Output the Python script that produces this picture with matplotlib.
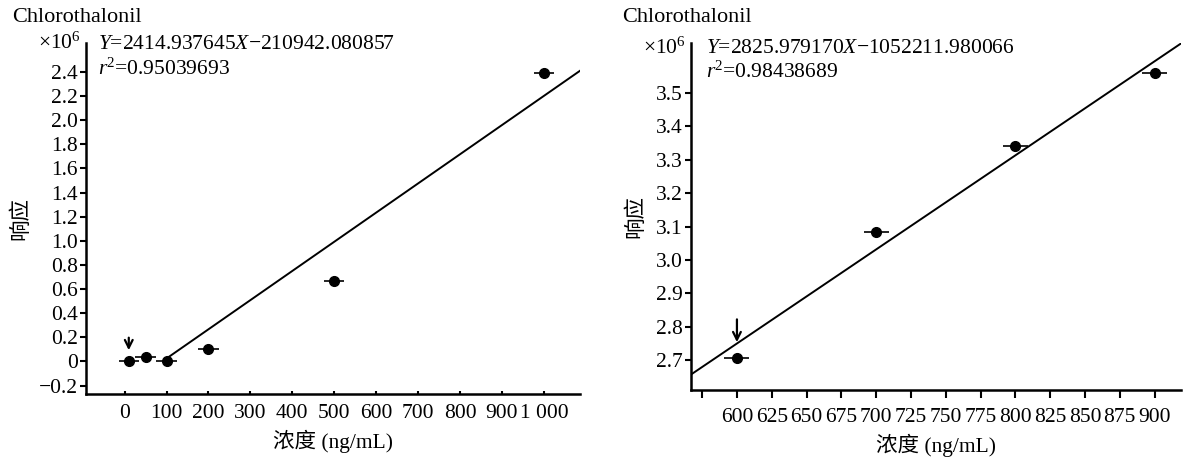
import numpy as np
import matplotlib
matplotlib.use('Agg')
import matplotlib.pyplot as plt

plt.rcParams['font.family'] = ['Liberation Serif', 'Noto Sans CJK SC']
plt.rcParams['mathtext.fontset'] = 'custom'
plt.rcParams['mathtext.rm'] = 'Liberation Serif'
plt.rcParams['mathtext.it'] = 'Liberation Serif:italic'

# data (response in units of 1e6)
conc_left = [10, 50, 100, 200, 500, 1000]
resp_left = [0.0, 0.035, 0.0, 0.10, 0.67, 2.39]
conc_right = [600, 700, 800, 900]
resp_right = [2.706, 3.083, 3.34, 3.56]

title = 'Chlorothalonil'
eq_left = '$Y$=2414.937645$X$\u2212210942.080857'
r2_left = '$r$$^2$=0.95039693'
eq_right = '$Y$=2825.979170$X$\u22121052211.980066'
r2_right = '$r$$^2$=0.98438689'

xticks_left = list(range(0, 1001, 100))
xlabels_left = [str(v) for v in xticks_left[:-1]] + ['1 000']
yticks_left = np.round(np.arange(-0.2, 2.41, 0.2), 1)
xticks_right = list(range(575, 901, 25))
xlabels_right = [''] + [str(v) for v in xticks_right[1:]]
yticks_right = np.round(np.arange(2.7, 3.51, 0.1), 1)

fs = 15.5

fig = plt.figure(figsize=(11.84, 4.63), dpi=100)
ax1 = fig.add_axes([86 / 1184, 69 / 463, 494 / 1184, 351 / 463])
ax2 = fig.add_axes([691 / 1184, 73 / 463, 490 / 1184, 347 / 463])


def style(ax):
    for s in ['top', 'right']:
        ax.spines[s].set_visible(False)
    for s in ['left', 'bottom']:
        ax.spines[s].set_linewidth(1.8)
    ax.tick_params(labelsize=fs, width=1.5, length=4, pad=2)


def points(ax, x, y, xerr):
    ax.errorbar(x, y, xerr=xerr, fmt='o', color='black', ms=7,
                elinewidth=1.2, capsize=0, zorder=3)


# left panel
style(ax1)
points(ax1, conc_left, resp_left, 24)
k, b = np.polyfit(conc_left, resp_left, 1)
xl = np.array([100, 1086])
ax1.plot(xl, k * xl + b, color='black', lw=1.4)
ax1.annotate('', xy=(10, 0.07), xytext=(10, 0.22),
             arrowprops=dict(arrowstyle='->', color='black', lw=1.6,
                             mutation_scale=14))
ax1.set_xlim(-92, 1086)
ax1.set_ylim(-0.27, 2.64)
ax1.set_xticks(xticks_left)
ax1.set_xticklabels(xlabels_left)
ax1.tick_params(axis='x', direction='in', length=2, pad=7)
ax1.set_yticks(yticks_left)
ax1.set_yticklabels(['\u22120.2', '0'] + ['%.1f' % v for v in yticks_left[2:]])
ax1.set_xlabel('浓度 (ng/mL)', fontsize=fs, labelpad=5)
ax1.set_ylabel('响应', fontsize=fs, labelpad=5)
ax1.text(-0.01, 1.0, '\u00d710$^6$', transform=ax1.transAxes,
         ha='right', va='center', fontsize=fs)
ax1.text(0.025, 0.995, eq_left, transform=ax1.transAxes, ha='left',
         va='center', fontsize=fs)
ax1.text(0.025, 0.925, r2_left, transform=ax1.transAxes, ha='left',
         va='center', fontsize=fs)
fig.text(12 / 1184, 1 - 18 / 463, title, ha='left', va='center', fontsize=16)

# right panel
style(ax2)
points(ax2, conc_right, resp_right, 9)
k2, b2 = np.polyfit(conc_right, resp_right, 1)
xr = np.array([567, 930])
ax2.plot(xr, k2 * xr + b2, color='black', lw=1.4)
ax2.annotate('', xy=(600, 2.745), xytext=(600, 2.83),
             arrowprops=dict(arrowstyle='->', color='black', lw=1.6,
                             mutation_scale=14))
ax2.set_xlim(567, 919)
ax2.set_ylim(2.61, 3.65)
ax2.set_xticks(xticks_right)
ax2.set_xticklabels(xlabels_right)
ax2.tick_params(axis='x', length=6, pad=7)
ax2.set_yticks(yticks_right)
ax2.set_yticklabels(['%.1f' % v for v in yticks_right])
ax2.set_xlabel('浓度 (ng/mL)', fontsize=fs, labelpad=5)
ax2.set_ylabel('响应', fontsize=fs, labelpad=7)
ax2.text(-0.01, 0.985, '\u00d710$^6$', transform=ax2.transAxes,
         ha='right', va='center', fontsize=fs)
ax2.text(0.03, 0.985, eq_right, transform=ax2.transAxes, ha='left',
         va='center', fontsize=fs)
ax2.text(0.03, 0.915, r2_right, transform=ax2.transAxes, ha='left',
         va='center', fontsize=fs)
fig.text(622 / 1184, 1 - 18 / 463, title, ha='left', va='center', fontsize=16)

fig.savefig('out.png', dpi=100)
